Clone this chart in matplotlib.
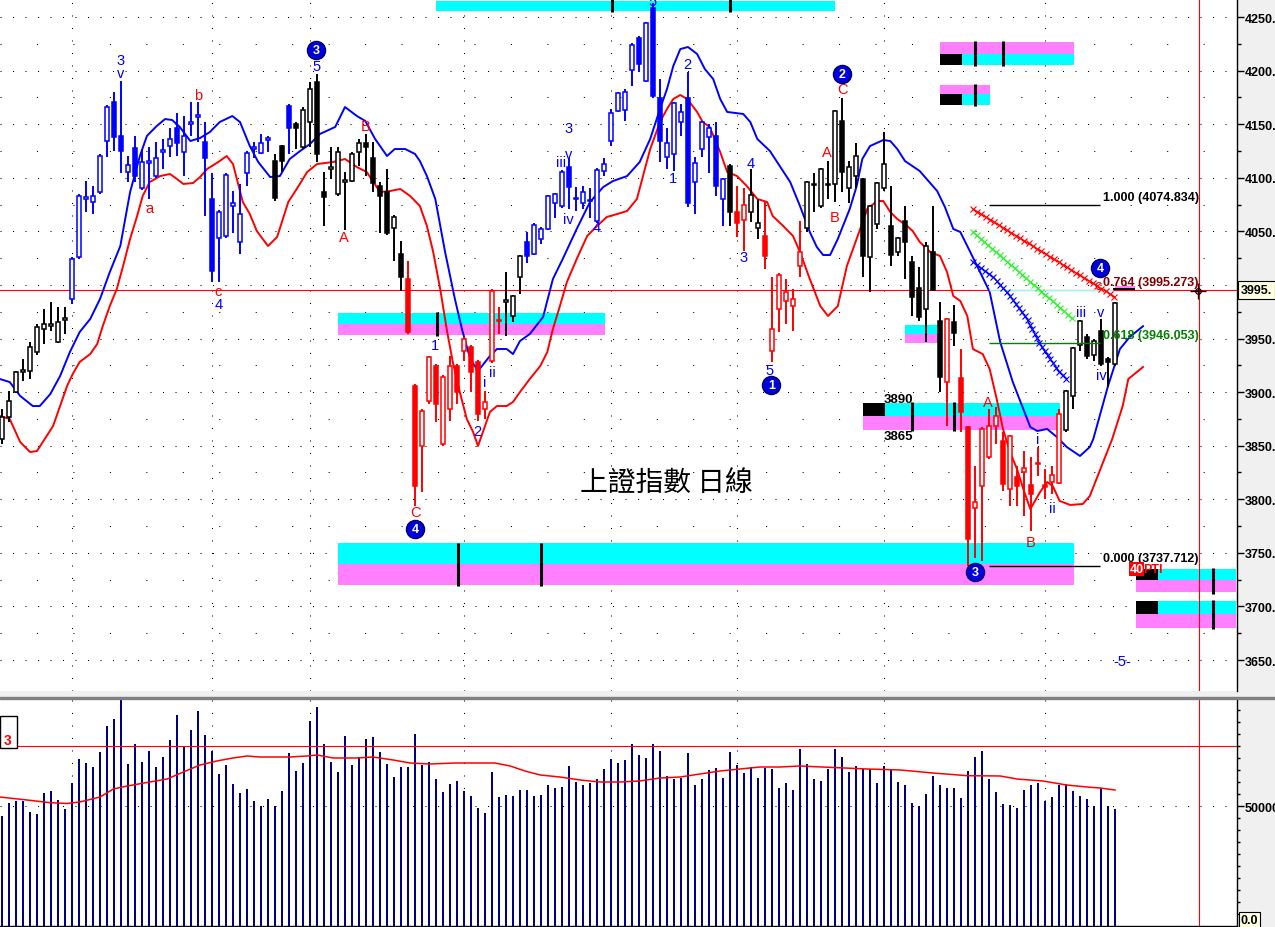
import numpy as np
import matplotlib
matplotlib.use("Agg")
import matplotlib.pyplot as plt
from matplotlib.patches import Rectangle

plt.rcParams["font.family"] = ["Liberation Sans", "DejaVu Sans"]

# 日線 K 線數據
opens = [3856, 3877, 3900, 3919, 3920, 3937, 3959, 3962, 3947, 3967,
         3987, 4026, 4080, 4077, 4087, 4134, 4171, 4139, 4105, 4128,
         4090, 4114, 4102, 4124, 4130, 4146, 4124, 4150, 4157, 4133,
         4080, 4044, 4046, 4074, 4040, 4104, 4127, 4123, 4135, 4116,
         4130, 4167, 4150, 4129, 4152, 4189, 4087, 4108, 4085, 4096,
         4097, 4124, 4132, 4118, 4092, 4087, 4053, 4029, 4006, 3906,
         3850, 3892, 3924, 3852, 3884, 3924, 3938, 3942, 3928, 3884,
         3929, 3966, 3984, 3971, 4007, 4040, 4029, 4043, 4052, 4076,
         4074, 4110, 4080, 4076, 4078, 4060, 4106, 4134, 4162, 4163,
         4201, 4230, 4190, 4258, 4174, 4119, 4122, 4152, 4174, 4096,
         4127, 4138, 4139, 4080, 4111, 4068, 4061, 4068, 4053, 4046,
         3938, 3978, 3985, 3980, 4018, 4053, 4093, 4074, 4093, 4094,
         4153, 4090, 4102, 4099, 4026, 4057, 4090, 4055, 4031, 4060,
         4021, 3997, 3978, 4031, 3966, 3909, 3965, 3913, 3867, 3792,
         3812, 3839, 3868, 3854, 3810, 3821, 3825, 3813, 3833, 3813,
         3816, 3815, 3865, 3896, 3944, 3951, 3935, 3957, 3931, 3926]
highs = [3884, 3901, 3920, 3931, 3947, 3964, 3978, 3984, 3979, 3979,
         4026, 4085, 4097, 4092, 4122, 4168, 4180, 4190, 4120, 4139,
         4127, 4129, 4133, 4136, 4146, 4160, 4158, 4171, 4171, 4152,
         4104, 4070, 4104, 4088, 4094, 4125, 4133, 4141, 4139, 4122,
         4131, 4169, 4152, 4166, 4189, 4197, 4105, 4129, 4129, 4105,
         4124, 4136, 4141, 4133, 4096, 4108, 4065, 4041, 4022, 3908,
         3884, 3934, 3926, 3916, 3934, 3926, 3951, 3944, 3930, 3901,
         3996, 3979, 4012, 3991, 4028, 4049, 4058, 4054, 4084, 4086,
         4107, 4118, 4091, 4092, 4090, 4109, 4118, 4164, 4180, 4183,
         4226, 4232, 4245, 4263, 4192, 4146, 4171, 4169, 4199, 4119,
         4153, 4150, 4152, 4100, 4113, 4092, 4090, 4108, 4080, 4078,
         4007, 4011, 4006, 3996, 4060, 4097, 4104, 4109, 4116, 4163,
         4174, 4116, 4132, 4100, 4075, 4096, 4143, 4092, 4045, 4074,
         4027, 4017, 4040, 4074, 3984, 3969, 3981, 3940, 3868, 3831,
         3867, 3884, 3886, 3863, 3860, 3831, 3845, 3839, 3849, 3828,
         3831, 3884, 3902, 3942, 3967, 3954, 3950, 3968, 3933, 3984]
lows = [3852, 3872, 3899, 3910, 3912, 3935, 3945, 3957, 3946, 3954,
        3982, 4024, 4068, 4066, 4085, 4119, 4125, 4104, 4096, 4096,
        4089, 4080, 4100, 4108, 4119, 4120, 4102, 4139, 4133, 4064,
        4003, 4003, 4044, 4048, 4029, 4092, 4118, 4122, 4124, 4078,
        4105, 4122, 4127, 4127, 4129, 4115, 4055, 4099, 4083, 4051,
        4096, 4111, 4102, 4087, 4048, 4047, 4022, 3994, 3954, 3794,
        3807, 3889, 3872, 3850, 3873, 3889, 3929, 3900, 3873, 3875,
        3927, 3954, 3952, 3965, 3992, 4020, 4028, 4038, 4051, 4062,
        4072, 4071, 4069, 4071, 4062, 4058, 4102, 4130, 4161, 4153,
        4186, 4199, 4189, 4174, 4115, 4108, 4106, 4139, 4073, 4066,
        4119, 4104, 4083, 4055, 4055, 4045, 4032, 4059, 4043, 4015,
        3928, 3956, 3964, 3957, 4007, 4049, 4068, 4072, 4080, 4077,
        4087, 4076, 4090, 4007, 3993, 4052, 4088, 4018, 4027, 4006,
        3971, 3966, 3947, 3994, 3900, 3868, 3943, 3863, 3738, 3745,
        3742, 3838, 3852, 3808, 3794, 3794, 3784, 3770, 3822, 3800,
        3805, 3814, 3863, 3884, 3938, 3931, 3929, 3924, 3905, 3924]
closes = [3877, 3892, 3919, 3921, 3942, 3961, 3964, 3964, 3965, 3969,
          4024, 4083, 4082, 4083, 4120, 4166, 4138, 4125, 4112, 4102,
          4115, 4116, 4118, 4126, 4136, 4132, 4139, 4152, 4159, 4118,
          4013, 4068, 4103, 4076, 4066, 4123, 4129, 4132, 4137, 4081,
          4116, 4146, 4146, 4163, 4183, 4122, 4082, 4110, 4124, 4098,
          4122, 4132, 4129, 4095, 4083, 4048, 4063, 4007, 3956, 3812,
          3882, 3933, 3889, 3914, 3924, 3900, 3950, 3919, 3880, 3891,
          3994, 3967, 3986, 3990, 4027, 4027, 4056, 4052, 4083, 4085,
          4105, 4091, 4081, 4087, 4079, 4107, 4113, 4160, 4179, 4180,
          4224, 4206, 4244, 4176, 4134, 4132, 4170, 4161, 4076, 4114,
          4152, 4146, 4092, 4099, 4068, 4058, 4075, 4084, 4058, 4027,
          3959, 4009, 3993, 3987, 4031, 4096, 4094, 4108, 4094, 4162,
          4105, 4110, 4120, 4027, 4074, 4095, 4113, 4028, 4044, 4040,
          3989, 3970, 4036, 3995, 3914, 3968, 3955, 3881, 3763, 3797,
          3866, 3868, 3878, 3814, 3859, 3812, 3829, 3805, 3834, 3811,
          3823, 3880, 3901, 3941, 3966, 3934, 3948, 3926, 3928, 3983]

# 波浪段落顏色 (k 黑 / b 藍 / r 紅), 每段的 K 線數目
wave_segments = [("k", 10), ("b", 29), ("k", 2), ("b", 1), ("k", 16), ("r", 14),
                 ("k", 3), ("b", 29), ("k", 1), ("r", 2), ("k", 2), ("r", 6),
                 ("k", 20), ("r", 1), ("k", 1), ("r", 15), ("k", 8)]

volumes = [45960, 51250, 52090, 52090, 47500, 46670, 55420, 56250, 52500, 48750,
           59590, 69590, 67920, 66250, 72500, 83340, 86250, 94170, 67500, 75840,
           68340, 72920, 66250, 70420, 77510, 87920, 75000, 81670, 89590, 79590,
           72920, 63340, 67090, 59170, 55420, 57090, 52090, 50000, 52920, 50000,
           56250, 72090, 64590, 67920, 85420, 91260, 75840, 68340, 64170, 79170,
           67090, 70420, 77920, 78760, 72500, 67500, 62090, 66250, 66250, 80010,
           67090, 68340, 61250, 55700, 59170, 60420, 56250, 54170, 49170, 47090,
           64170, 53750, 54590, 54170, 56670, 56670, 54170, 54590, 58750, 57500,
           57920, 66670, 60000, 58750, 59590, 61250, 65420, 69590, 67920, 69170,
           75840, 71260, 70000, 75840, 72920, 62500, 61250, 61670, 72090, 58750,
           61250, 65010, 65840, 61670, 72500, 67090, 63750, 66250, 61670, 65840,
           65420, 57500, 59590, 56670, 73760, 67500, 61250, 60420, 65420, 73760,
           70420, 64170, 66670, 65420, 65420, 59590, 66670, 65010, 60000, 58750,
           51250, 50000, 55000, 62500, 58750, 57500, 57500, 53340, 64590, 70420,
           72920, 61250, 55840, 50840, 50420, 49170, 56670, 58750, 59590, 52090,
           53750, 58750, 59170, 56250, 54170, 52920, 50000, 57500, 50000, 48750]

# 上下軌 (K 線序號, 價位)
upper_band = [(-0.3, 3912.2), (1.1, 3909.4), (2.6, 3896.4), (4.4, 3887.0), (5.4, 3887.0),
              (6.9, 3898.2), (8.3, 3915.0), (9.7, 3937.4), (11.1, 3956.1), (12.6, 3968.2),
              (14.0, 3986.9), (15.4, 4012.0), (16.9, 4036.3), (18.3, 4086.7), (19.7, 4120.3),
              (20.7, 4139.0), (22.1, 4148.3), (23.3, 4154.8), (24.3, 4153.9), (25.4, 4147.4),
              (26.9, 4134.3), (28.3, 4137.1), (29.7, 4142.7), (31.1, 4152.0), (32.9, 4157.6),
              (34.0, 4152.0), (35.4, 4129.6), (36.6, 4114.7), (38.3, 4100.7), (39.7, 4101.6),
              (41.1, 4117.5), (42.6, 4125.0), (44.0, 4131.5), (45.4, 4140.8), (47.6, 4147.4),
              (49.0, 4166.0), (50.7, 4157.6), (51.9, 4153.0), (53.3, 4136.2), (55.0, 4120.3),
              (56.1, 4126.8), (57.6, 4126.8), (59.0, 4122.2), (59.7, 4115.6), (60.7, 4101.6),
              (61.9, 4080.2), (63.3, 4030.7), (64.7, 3986.9), (65.7, 3958.9), (66.9, 3930.9),
              (68.0, 3919.7), (69.7, 3933.7), (70.7, 3940.2), (72.1, 3940.2), (73.0, 3935.5),
              (74.0, 3947.7), (75.4, 3954.2), (77.3, 3970.1), (78.7, 4005.5), (80.1, 4024.2),
              (82.1, 4052.2), (84.0, 4077.4), (85.9, 4091.4), (87.3, 4097.0), (89.3, 4101.6),
              (91.1, 4114.7), (92.6, 4136.2), (94.0, 4164.2), (95.0, 4182.8), (95.9, 4204.3),
              (96.9, 4220.1), (98.0, 4222.0), (99.3, 4215.5), (100.4, 4201.5), (101.6, 4192.1),
              (102.6, 4173.5), (103.6, 4161.4), (105.9, 4159.5), (106.9, 4152.0), (107.9, 4136.2),
              (109.7, 4125.0), (111.1, 4111.0), (112.6, 4096.0), (114.0, 4073.6), (115.4, 4049.4),
              (116.4, 4035.4), (117.3, 4027.9), (118.3, 4027.9), (119.4, 4042.9), (121.1, 4070.8),
              (122.1, 4092.3), (122.9, 4117.5), (124.0, 4129.6), (125.9, 4135.2), (126.9, 4134.3),
              (127.9, 4126.8), (129.0, 4115.6), (131.1, 4106.3), (132.1, 4098.8), (133.6, 4087.6),
              (134.7, 4072.7), (135.9, 4052.2), (136.9, 4049.4), (137.9, 4036.3), (139.3, 4017.7),
              (141.1, 3993.4), (142.6, 3946.7), (144.4, 3909.4), (145.9, 3884.2), (146.9, 3867.4),
              (147.9, 3863.7), (149.3, 3865.6), (150.7, 3858.1), (152.1, 3848.8), (154.0, 3840.4),
              (155.4, 3848.8), (155.9, 3856.2), (158.0, 3905.7), (159.7, 3940.2), (161.1, 3951.4),
              (163.0, 3961.5)]
lower_band = [(-0.3, 3877.7), (1.1, 3874.9), (2.6, 3853.4), (4.0, 3844.1), (5.0, 3845.0),
              (6.1, 3856.2), (7.3, 3868.4), (8.3, 3887.0), (9.3, 3905.7), (10.1, 3916.9),
              (11.1, 3928.1), (12.6, 3935.5), (13.6, 3944.9), (14.4, 3961.7), (15.4, 3980.3),
              (16.4, 3996.2), (17.3, 4017.7), (18.3, 4042.9), (19.3, 4064.3), (20.1, 4083.0),
              (21.1, 4096.0), (22.6, 4101.6), (24.0, 4103.5), (25.0, 4098.8), (25.9, 4094.2),
              (27.3, 4095.1), (28.3, 4100.7), (29.3, 4108.2), (30.9, 4114.7), (32.1, 4120.3),
              (33.0, 4112.8), (34.4, 4077.4), (35.4, 4066.2), (36.4, 4050.3), (38.0, 4036.3),
              (39.3, 4044.7), (40.9, 4077.4), (42.1, 4089.5), (43.6, 4105.4), (45.0, 4112.8),
              (47.3, 4114.7), (49.0, 4117.5), (50.7, 4110.0), (52.1, 4105.4), (54.0, 4086.7),
              (55.4, 4087.6), (56.9, 4089.5), (58.3, 4083.0), (59.7, 4073.6), (60.7, 4055.0),
              (61.6, 4030.7), (62.6, 3996.2), (63.6, 3956.1), (64.4, 3928.1), (65.4, 3900.1),
              (66.4, 3874.9), (67.3, 3862.8), (68.0, 3849.7), (68.7, 3862.8), (69.7, 3881.4),
              (70.7, 3887.0), (72.1, 3887.0), (73.0, 3890.8), (74.0, 3900.1), (75.4, 3912.2),
              (76.9, 3924.4), (77.9, 3937.4), (78.7, 3958.9), (79.7, 3980.3), (80.7, 4002.7),
              (82.1, 4024.2), (83.6, 4045.7), (85.0, 4055.0), (86.4, 4063.4), (87.9, 4066.2),
              (89.3, 4069.0), (90.7, 4080.2), (92.6, 4126.8), (94.0, 4152.0), (95.0, 4164.2),
              (95.9, 4173.5), (96.9, 4177.2), (97.9, 4173.5), (99.3, 4161.4), (100.1, 4152.0),
              (101.1, 4147.4), (102.6, 4124.0), (103.6, 4105.4), (105.0, 4101.6), (106.4, 4092.3),
              (107.9, 4080.2), (109.3, 4077.4), (110.1, 4064.3), (111.6, 4055.0), (113.0, 4045.7),
              (114.0, 4030.7), (115.4, 4005.5), (116.9, 3980.3), (118.0, 3971.0), (119.4, 3980.3),
              (120.7, 4017.7), (122.6, 4052.2), (123.6, 4070.8), (125.0, 4078.3), (125.9, 4078.3),
              (126.9, 4068.0), (127.9, 4061.5), (129.3, 4055.0), (130.1, 4050.3), (131.1, 4040.1),
              (132.6, 4030.7), (134.0, 4027.0), (135.0, 4012.1), (135.9, 3989.7), (136.9, 3985.0),
              (137.9, 3971.0), (138.7, 3940.2), (140.1, 3935.5), (141.1, 3921.5), (142.1, 3893.6),
              (143.0, 3865.6), (144.0, 3844.1), (145.0, 3828.2), (145.9, 3809.6), (146.9, 3790.9),
              (148.3, 3806.8), (149.3, 3816.1), (150.1, 3812.4), (151.1, 3798.4), (152.6, 3794.7),
              (154.4, 3795.6), (155.4, 3803.0), (158.6, 3856.2), (160.1, 3887.0), (160.9, 3912.2),
              (163.0, 3923.4)]
vol_ma = [(-0.3, 53750), (3.6, 52500), (6.9, 51380), (9.3, 51050), (11.1, 51670), (14.0, 53750),
          (15.9, 57090), (17.9, 58340), (21.1, 60000), (23.6, 61250), (25.9, 64170), (28.3, 67090),
          (30.7, 68760), (33.0, 70010), (35.0, 70840), (36.9, 70420), (41.1, 70420), (43.6, 70840),
          (45.0, 71260), (47.3, 70010), (50.7, 70010), (53.0, 70420), (55.9, 69170), (58.3, 67920),
          (61.1, 67500), (64.7, 67920), (70.4, 67920), (72.6, 66670), (74.7, 64590), (76.9, 62920),
          (79.7, 62090), (82.6, 60840), (85.4, 60000), (88.3, 60000), (91.1, 60420), (94.0, 61670),
          (96.9, 62090), (99.7, 63340), (102.6, 64590), (105.4, 65420), (108.3, 66250), (111.1, 66250),
          (114.0, 66670), (118.7, 66050), (123.6, 65420), (128.3, 65010), (133.0, 63750), (137.9, 62630),
          (142.6, 62510), (145.0, 61250), (148.7, 60420), (152.1, 58750), (155.0, 57920), (156.9, 57500),
          (159.0, 56670)]

# 月份分隔 (K 線序號)
month_lines = [10, 30, 44, 66, 87, 105, 126, 149]

# 支撐/阻力區 (起, 止, 下沿, 上沿)
cyan_boxes = [(62.0, 119.0, 4255.6, 4264.9), (48.0, 86.1, 3963.5, 3973.8), (129.0, 134.0, 3954.2, 3962.6),
              (126.1, 151.1, 3877.5, 3890.0), (48.0, 153.1, 3739.6, 3759.2), (137.1, 153.1, 4205.2, 4215.5),
              (137.1, 141.1, 4167.9, 4178.2), (165.1, 176.3, 3724.7, 3734.9), (165.1, 176.3, 3692.9, 3705.1)]
pink_boxes = [(48.0, 86.1, 3953.3, 3963.5), (129.0, 134.0, 3945.8, 3954.2), (123.0, 151.1, 3865.0, 3877.5),
              (48.0, 153.1, 3720.0, 3739.6), (134.0, 153.1, 4215.5, 4226.7), (134.0, 141.1, 4178.2, 4186.6),
              (162.0, 176.3, 3713.5, 3724.7), (162.0, 176.3, 3679.9, 3692.9), (159.0, 161.9, 3997.1, 3999.0)]
black_boxes = [(123.0, 126.1, 3877.5, 3890.0), (134.0, 137.1, 4205.2, 4215.5), (134.0, 137.1, 4167.9, 4178.2),
               (162.0, 165.1, 3724.7, 3734.9), (162.0, 165.1, 3692.9, 3705.1), (158.7, 161.9, 3994.3, 3997.1)]
zone_ticks = [(87.1, 4254.7, 4266.8), (104.0, 4254.7, 4266.8), (62.1, 3952.3, 3974.7),
              (130.0, 3863.7, 3890.8), (136.0, 3863.7, 3890.8), (65.1, 3719.0, 3759.2),
              (77.0, 3719.0, 3759.2), (139.0, 4204.3, 4227.6), (143.0, 4204.3, 4227.6),
              (139.0, 4167.0, 4187.5), (173.0, 3711.6, 3735.9), (173.0, 3679.0, 3706.0)]

# 黃金分割
fib_levels = [("1.000", 4074.834, "black", "black"), ("0.764", 3995.273, "#800000", "#9ff5f5"),
              ("0.618", 3946.053, "#008000", "#008000"), ("0.000", 3737.712, "black", "black")]

# 投射線
proj_lines = [("red", [138.7, 159.0], [4070.9, 3988.7]),
              ("#33ee33", [138.7, 153.0], [4049.4, 3968.2]),
              ("blue", [138.7, 141.6, 144.0, 146.4, 148.7, 151.1, 152.1],
               [4021.4, 4007.4, 3989.7, 3968.2, 3940.2, 3918.8, 3912.2])]

# 波浪標記
wave_labels = [("3", 17.0, 4209.9, "b"), ("v", 17.0, 4197.7, "b"), ("a", 21.0, 4071.8, "r"),
               ("b", 28.0, 4177.2, "r"), ("c", 30.9, 3994.3, "r"), ("4", 30.9, 3982.2, "b"),
               ("5", 44.9, 4204.3, "b"), ("A", 48.9, 4044.7, "r"), ("B", 51.9, 4148.3, "r"),
               ("1", 61.9, 3943.9, "b"), ("C", 59.0, 3788.1, "r"), ("2", 67.9, 3863.7, "b"),
               ("i", 69.0, 3909.4, "b"), ("ii", 70.0, 3918.8, "b"), ("3", 80.9, 4146.4, "b"),
               ("iii", 79.9, 4114.7, "b"), ("v", 80.9, 4122.2, "b"), ("iv", 80.9, 4061.5, "b"),
               ("4", 84.9, 4054.0, "b"), ("5", 92.9, 4264.9, "b"), ("2", 97.9, 4206.1, "b"),
               ("1", 95.9, 4099.8, "b"), ("3", 105.9, 4026.1, "b"), ("4", 106.9, 4113.8, "b"),
               ("5", 109.7, 3920.6, "b"), ("A", 117.9, 4124.0, "r"), ("B", 118.9, 4063.4, "r"),
               ("C", 120.0, 4182.8, "r"), ("A", 140.9, 3890.8, "r"), ("B", 146.9, 3760.1, "r"),
               ("i", 148.0, 3856.2, "b"), ("ii", 150.0, 3791.8, "b"), ("iii", 154.1, 3974.7, "b"),
               ("v", 156.9, 3974.7, "b"), ("iv", 157.0, 3916.0, "b"), ("c", 156.6, 3999.9, "r"),
               ("-5-", 160.1, 3649.1, "b")]
wave_circles = [("3", 44.9, 4219.2), ("4", 59.0, 3772.3), ("1", 109.9, 3906.6),
                ("2", 120.0, 4196.8), ("3", 139.0, 3732.1), ("4", 156.9, 4015.8)]

cursor_price = 3995.3
cursor_bar = 171.0
cursor_vol = 75130

COL = {"k": "#000000", "b": "#0000ff", "r": "#ff0000"}

W, H = 1275, 928
fig = plt.figure(figsize=(W / 100, H / 100), dpi=100, facecolor="#f0f0f0")
ax = fig.add_axes([0, 236 / H, 1237 / W, 692 / H])
axv = fig.add_axes([0, 1 / H, 1237 / W, 227 / H])
fig.add_artist(Rectangle((0, 228 / H), 1, 2 / H, transform=fig.transFigure, color="#808080"))

xmin, xmax = -2 / 7, 1235 / 7
for a in (ax, axv):
    a.set_xlim(xmin, xmax)
    a.set_facecolor("white")
    for s in ("left", "top"):
        a.spines[s].set_visible(False)
    a.spines["right"].set_linewidth(1)
    a.tick_params(axis="x", bottom=False, labelbottom=False)
    a.yaxis.tick_right()
ax.spines["bottom"].set_visible(False)
ax.set_ylim(3621.1, 4266.8)
axv.set_ylim(0, 94590)

# 網格
for p in range(3650, 4251, 50):
    ax.axhline(p, color="black", lw=0.75, ls=(0, (1, 11)), zorder=0)
for p in range(3675, 4250, 50):
    ax.axhline(p, color="black", lw=0.75, ls=(0, (1, 34)), zorder=0)
for g in month_lines:
    ax.axvline(g, color="black", lw=0.75, ls=(0, (1, 11)), zorder=0)
    axv.axvline(g, color="black", lw=0.75, ls=(0, (1, 11)), zorder=0)
axv.axhline(50000, color="black", lw=0.75, ls=(0, (1, 11)), zorder=0)
axv.axhline(75000, color="black", lw=0.75, ls=(0, (1, 34)), zorder=0)

# 區域
for x0, x1, lo, hi in cyan_boxes:
    ax.add_patch(Rectangle((x0, lo), x1 - x0, hi - lo, color="#00ffff", lw=0, zorder=1))
for x0, x1, lo, hi in pink_boxes:
    ax.add_patch(Rectangle((x0, lo), x1 - x0, hi - lo, color="#ff80ff", lw=0, zorder=1))
for x0, x1, lo, hi in black_boxes:
    ax.add_patch(Rectangle((x0, lo), x1 - x0, hi - lo, color="black", lw=0, zorder=1))
for xt, lo, hi in zone_ticks:
    ax.vlines(xt, lo, hi, color="black", lw=2.2, zorder=1.2)
ax.text(128.0, 3893.6, "3890", fontsize=9.5, fontweight="bold", ha="center", va="center", zorder=7)
ax.text(128.0, 3859.0, "3865", fontsize=9.5, fontweight="bold", ha="center", va="center", zorder=7)

# 十字游標
ax.axhline(cursor_price, color="red", lw=0.8, zorder=1.5)
ax.axvline(cursor_bar, color="red", lw=0.8, zorder=1.5)
axv.axvline(cursor_bar, color="red", lw=0.8, zorder=1.5)
axv.axhline(cursor_vol, color="red", lw=0.8, zorder=5)

# 上下軌
ux, uv = zip(*upper_band)
lx, lv = zip(*lower_band)
ax.plot(ux, uv, color="#0000ff", lw=1.4, zorder=2)
ax.plot(lx, lv, color="#ff0000", lw=1.4, zorder=2)

# K 線
bar_colors = "".join(c * n for c, n in wave_segments)
for i in range(len(opens)):
    c = COL[bar_colors[i]]
    o, h, l, cl = opens[i], highs[i], lows[i], closes[i]
    ax.vlines(i, l, h, color=c, lw=1.4, zorder=3)
    up = cl >= o
    ax.add_patch(Rectangle((i - 0.25, min(o, cl)), 0.5, abs(cl - o),
                           facecolor="white" if up else c, edgecolor=c, lw=1.1, zorder=4))

# 黃金分割線
for name, val, tcol, lcol in fib_levels:
    x_end = 158.7 if name == "0.764" else 156.9
    ax.hlines(val, 141.0, x_end, color=lcol, lw=1.0, zorder=5)
    ax.text(157.3, val + 7.5, f"{name} ({val:.3f})", color=tcol, fontsize=9,
            fontweight="bold", ha="left", va="center", zorder=7)


def along(xs, ys, step=0.72):
    # 沿投射線放置 × 記號
    px = np.array(xs) * 7.0
    py = np.array(ys) * 1.0717
    d = np.concatenate([[0], np.cumsum(np.hypot(np.diff(px), np.diff(py)))])
    t = np.arange(0, d[-1] + 0.1, step * 7.0)
    return np.interp(t, d, xs), np.interp(t, d, ys)


for col, xs, ys in proj_lines:
    ax.plot(xs, ys, color=col, lw=0.8, zorder=5)
    mx, my = along(xs, ys)
    ax.plot(mx, my, ls="none", marker="x", ms=4, mew=0.8, color=col, zorder=5)

# 波浪標記
for s, x, y, c in wave_labels:
    ax.text(x, y, s, color=COL[c], fontsize=10.5, ha="center", va="center", zorder=7)
cx = [c[1] for c in wave_circles]
cy = [c[2] for c in wave_circles]
ax.scatter(cx, cy, s=170, color="#0000dd", edgecolors="#000066", linewidths=1, zorder=7)
for s, x, y in wave_circles:
    ax.text(x, y, s, color="white", fontsize=9, fontweight="bold", ha="center", va="center", zorder=8)

ax.text(161.1, 3735.0, "40", color="white", fontsize=9, fontweight="bold", ha="left", va="center",
        bbox=dict(boxstyle="square,pad=0.05", fc="red", ec="none"), zorder=8)
ax.text(163.0, 3735.0, "PTI", color="red", fontsize=9, fontweight="bold", ha="left", va="center", zorder=8)

ax.plot([cursor_bar - 0.1], [cursor_price - 1], marker="+", ms=11, mew=1, color="black", zorder=8)
ax.plot([cursor_bar - 0.1], [cursor_price - 1], marker="o", ms=4, mfc="none", mec="black", mew=0.8, zorder=8)

ax.text(94.9, 3816.1, "上證指數 日線", family=["Noto Sans CJK TC", "DejaVu Sans"], fontsize=20,
        ha="center", va="center", color="black", zorder=7)

# 價格軸 (游標價位框遮住 4000)
ax.set_yticks(np.arange(3650, 4251, 50))
ax.set_yticks(np.arange(3675, 4250, 50), minor=True)
ax.yaxis.set_major_formatter(lambda v, p: "" if v == 4000 else f"{v:.0f}.")
ax.tick_params(axis="y", which="major", length=5, width=1, pad=0.5, labelsize=9)
ax.tick_params(axis="y", which="minor", length=3, width=1)
for t in ax.get_yticklabels():
    t.set_fontweight("bold")
ax.text(1.003, cursor_price, f"{cursor_price:.0f}.", transform=ax.get_yaxis_transform(), fontsize=9,
        fontweight="bold", ha="left", va="center", zorder=9, clip_on=False,
        bbox=dict(boxstyle="square,pad=0.25", fc="#ffffe1", ec="black", lw=0.8))

# 成交量
vx = np.arange(len(volumes))
axv.bar(vx, volumes, width=0.3, color="#000080", lw=0, zorder=3)
mx_, mv_ = zip(*vol_ma)
axv.plot(mx_, mv_, color="red", lw=1.1, zorder=4)
axv.set_yticks([50000])
axv.set_yticks(np.arange(5000, 94000, 5000), minor=True)
axv.yaxis.set_major_formatter(lambda v, p: f"{v:.0f}")
axv.tick_params(axis="y", which="major", length=5, width=1, pad=0.5, labelsize=9)
axv.tick_params(axis="y", which="minor", length=2, width=1)
for t in axv.get_yticklabels():
    t.set_fontweight("bold")
axv.spines["bottom"].set_linewidth(1)
axv.text(1.003, 0, "0.0", transform=axv.get_yaxis_transform(), fontsize=9, fontweight="bold",
         ha="left", va="bottom", clip_on=False,
         bbox=dict(boxstyle="square,pad=0.15", fc="#ffffe1", ec="black", lw=0.8))
axv.add_patch(Rectangle((0, 0.784), 17 / 1237, 0.141, transform=axv.transAxes,
                        fc="white", ec="black", lw=1, zorder=6))
axv.text(4 / 1237, 0.82, "3", transform=axv.transAxes, color="red", fontsize=10,
         fontweight="bold", ha="left", va="center", zorder=7)

fig.savefig("out.png", dpi=100, facecolor=fig.get_facecolor())
